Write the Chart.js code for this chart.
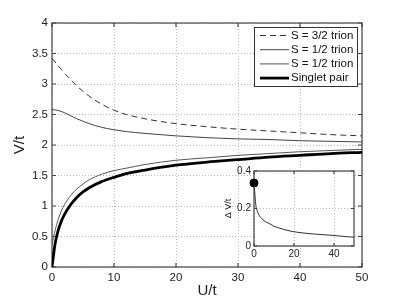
<!DOCTYPE html>
<html>
<head>
<meta charset="utf-8">
<script src="https://cdn.jsdelivr.net/npm/chart.js@4"></script>
<style>
html, body { margin: 0; padding: 0; background: #fff; }
#wrap { position: relative; width: 399px; height: 300px; }
#main { position: absolute; left: 0; top: 0; }
#inset { position: absolute; left: 218px; top: 158px; }
</style>
</head>
<body>
<div id="wrap">
<canvas id="main" width="399" height="300"></canvas>
<canvas id="inset" width="145" height="105"></canvas>
</div>
<script>
// U/t sample points
const uValues = [0, 0.5, 1, 1.5, 2, 3, 4, 5, 6, 8, 10, 12, 15, 20, 25, 30, 35, 40, 45, 50];
const trion32 = [3.42, 3.36, 3.30, 3.24, 3.18, 3.07, 2.97, 2.88, 2.80, 2.67, 2.57, 2.50, 2.43, 2.35, 2.30, 2.26, 2.23, 2.20, 2.17, 2.15];
const trion12Upper = [2.58, 2.575, 2.565, 2.55, 2.53, 2.48, 2.43, 2.39, 2.35, 2.29, 2.25, 2.22, 2.19, 2.15, 2.12, 2.10, 2.09, 2.07, 2.06, 2.05];
const trion12Lower = [0.37, 0.60, 0.78, 0.92, 1.02, 1.17, 1.28, 1.36, 1.43, 1.52, 1.58, 1.62, 1.68, 1.75, 1.79, 1.83, 1.86, 1.89, 1.91, 1.93];
const singletPair = [0, 0.38, 0.60, 0.75, 0.86, 1.02, 1.14, 1.23, 1.30, 1.40, 1.47, 1.53, 1.59, 1.67, 1.72, 1.76, 1.80, 1.83, 1.86, 1.88];
const deltaV = [0.336, 0.27, 0.21, 0.19, 0.175, 0.157, 0.145, 0.135, 0.128, 0.118, 0.105, 0.098, 0.088, 0.076, 0.069, 0.064, 0.06, 0.056, 0.051, 0.047];

const mainXTicks = [0, 10, 20, 30, 40, 50];
const mainYTicks = [0, 0.5, 1, 1.5, 2, 2.5, 3, 3.5, 4];
const insetXTicks = [0, 20, 40];
const insetYTicks = [0, 0.2, 0.4];

const FONT = '"Liberation Sans", Arial, sans-serif';
Chart.defaults.font.family = FONT;
Chart.defaults.color = '#222';

function pts(ys) {
    return uValues.map((u, i) => ({ x: u, y: ys[i] }));
}

// box round the plot area with inward tick marks
const framePlugin = {
    id: 'frame',
    beforeDraw(chart, args, opts) {
        if (opts.fill) {
            const a = chart.chartArea;
            chart.ctx.save();
            chart.ctx.fillStyle = '#fff';
            chart.ctx.fillRect(a.left, a.top, a.right - a.left, a.bottom - a.top);
            chart.ctx.restore();
        }
    },
    beforeDatasetsDraw(chart, args, opts) {
        const ctx = chart.ctx;
        const a = chart.chartArea;
        const len = opts.tick || 4;
        ctx.save();
        ctx.strokeStyle = '#444';
        ctx.lineWidth = 1.2;
        ctx.strokeRect(a.left, a.top, a.right - a.left, a.bottom - a.top);
        ctx.beginPath();
        chart.scales.x.ticks.forEach(t => {
            const px = chart.scales.x.getPixelForValue(t.value);
            ctx.moveTo(px, a.bottom); ctx.lineTo(px, a.bottom - len);
            ctx.moveTo(px, a.top); ctx.lineTo(px, a.top + len);
        });
        chart.scales.y.ticks.forEach(t => {
            const py = chart.scales.y.getPixelForValue(t.value);
            ctx.moveTo(a.left, py); ctx.lineTo(a.left + len, py);
            ctx.moveTo(a.right, py); ctx.lineTo(a.right - len, py);
        });
        ctx.stroke();
        ctx.restore();
    }
};

// legend drawn inside the top right corner
const boxLegend = {
    id: 'boxLegend',
    afterDraw(chart) {
        const ctx = chart.ctx;
        const a = chart.chartArea;
        const x0 = a.right - 108, y0 = a.top + 4, w = 103, h = 59;
        ctx.save();
        ctx.fillStyle = '#fff';
        ctx.fillRect(x0, y0, w, h);
        ctx.strokeStyle = '#333';
        ctx.lineWidth = 1;
        ctx.strokeRect(x0 + 0.5, y0 + 0.5, w, h);
        ctx.font = '11.5px ' + FONT;
        ctx.textBaseline = 'middle';
        chart.data.datasets.forEach((ds, i) => {
            const y = y0 + 8.5 + i * 14.2;
            ctx.beginPath();
            ctx.setLineDash(ds.borderDash || []);
            ctx.strokeStyle = ds.borderColor;
            ctx.lineWidth = ds.borderWidth;
            ctx.moveTo(x0 + 6, y);
            ctx.lineTo(x0 + 35, y);
            ctx.stroke();
            ctx.setLineDash([]);
            ctx.fillStyle = '#111';
            ctx.fillText(ds.label, x0 + 37, y);
        });
        ctx.restore();
    }
};

function axis(min, max, ticks, size, pad) {
    return {
        type: 'linear', min: min, max: max,
        afterBuildTicks: s => { s.ticks = ticks.map(v => ({ value: v })); },
        ticks: { font: { size: size }, color: '#222', padding: pad, callback: v => String(v) },
        grid: { color: '#bbb', drawTicks: false },
        border: { display: false, dash: [1, 2] }
    };
}

const mainX = axis(0, 50, mainXTicks, 11.5, 4);
mainX.title = { display: true, text: 'U/t', font: { size: 15 }, padding: { top: 0, bottom: 0 } };
mainX.afterFit = s => { s.height = 33; };
const mainY = axis(0, 4, mainYTicks, 11.5, 4);
mainY.title = { display: true, text: 'V/t', font: { size: 15 }, padding: { top: 11, bottom: 0 } };
mainY.afterFit = s => { s.width = 52; };

new Chart(document.getElementById('main'), {
    type: 'line',
    data: {
        datasets: [
            { label: 'S = 3/2 trion', data: pts(trion32), borderColor: '#333', borderWidth: 1, borderDash: [6, 4] },
            { label: 'S = 1/2 trion', data: pts(trion12Upper), borderColor: '#444', borderWidth: 1 },
            { label: 'S = 1/2 trion', data: pts(trion12Lower), borderColor: '#555', borderWidth: 1 },
            { label: 'Singlet pair', data: pts(singletPair), borderColor: '#000', borderWidth: 2.8 }
        ]
    },
    options: {
        responsive: false,
        animation: false,
        layout: { padding: { top: 23, right: 37, left: 0, bottom: 0 } },
        elements: { point: { radius: 0 }, line: { cubicInterpolationMode: 'monotone' } },
        plugins: { legend: { display: false }, tooltip: { enabled: false }, frame: { tick: 4 } },
        scales: { x: mainX, y: mainY }
    },
    plugins: [framePlugin, boxLegend]
});

const insetX = axis(0, 50, insetXTicks, 10, 2);
insetX.afterFit = s => { s.height = 17; };
const insetY = axis(0, 0.4, insetYTicks, 10, 3);
insetY.title = { display: true, text: 'Δ V/t', font: { size: 9 }, padding: { top: 5, bottom: 0 } };
insetY.afterFit = s => { s.width = 36; };

new Chart(document.getElementById('inset'), {
    type: 'line',
    data: {
        datasets: [
            { data: pts(deltaV), borderColor: '#333', borderWidth: 1, pointRadius: 0 },
            { data: [{ x: uValues[0], y: deltaV[0] }], showLine: false, pointRadius: 4, backgroundColor: '#000', borderColor: '#000', clip: false }
        ]
    },
    options: {
        responsive: false,
        animation: false,
        layout: { padding: { top: 13, right: 9, left: 0, bottom: 0 } },
        elements: { line: { cubicInterpolationMode: 'monotone' } },
        plugins: { legend: { display: false }, tooltip: { enabled: false }, frame: { tick: 3, fill: true } },
        scales: { x: insetX, y: insetY }
    },
    plugins: [framePlugin]
});
</script>
</body>
</html>
